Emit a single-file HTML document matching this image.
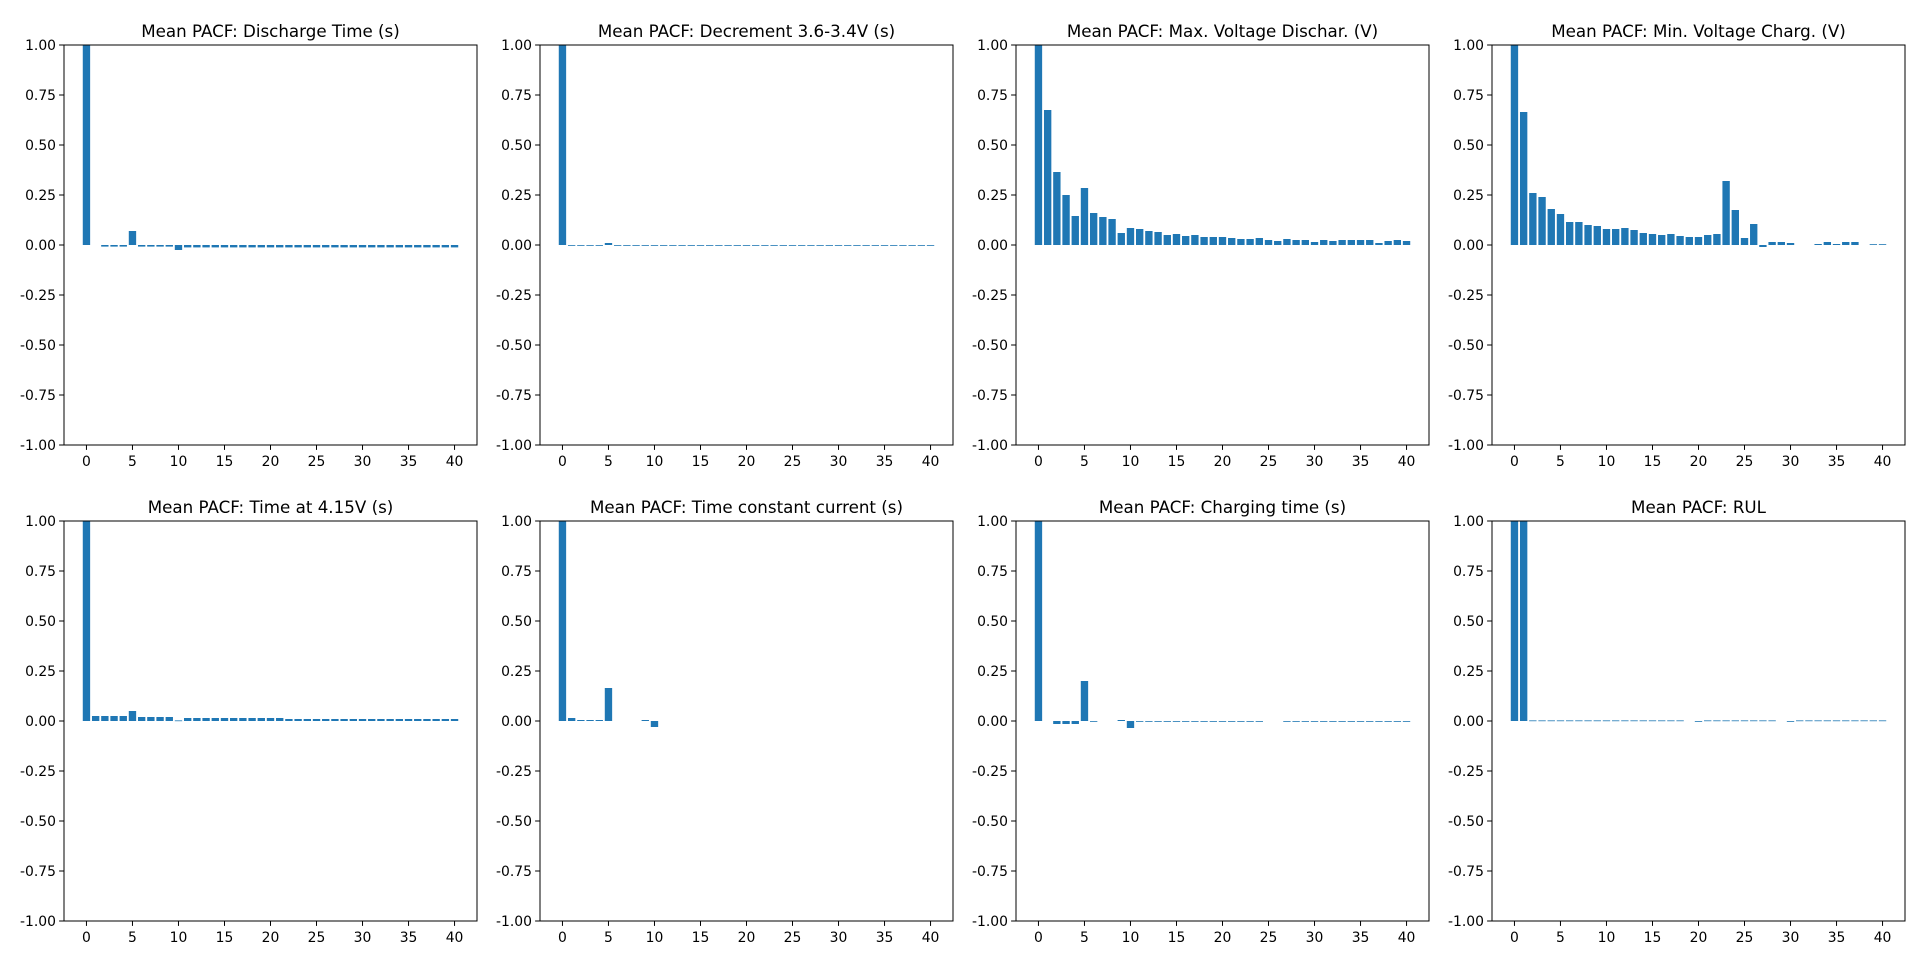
<!DOCTYPE html>
<html><head><meta charset="utf-8"><style>
html,body{margin:0;padding:0;background:#fff;}
svg{display:block;font-family:"DejaVu Sans","Liberation Sans",sans-serif;}
</style></head><body>
<svg id="fig" width="1920" height="967" viewBox="0 0 1920 967"></svg>
<script>
const titles=["Mean PACF: Discharge Time (s)","Mean PACF: Decrement 3.6-3.4V (s)","Mean PACF: Max. Voltage Dischar. (V)","Mean PACF: Min. Voltage Charg. (V)","Mean PACF: Time at 4.15V (s)","Mean PACF: Time constant current (s)","Mean PACF: Charging time (s)","Mean PACF: RUL"];
const N=null;
const pacf1=[1,N,-0.008,-0.008,-0.008,0.07,-0.008,-0.008,-0.008,-0.008,-0.025,-0.012,-0.012,-0.012,-0.012,-0.012,-0.012,-0.012,-0.012,-0.012,-0.012,-0.012,-0.012,-0.012,-0.012,-0.012,-0.012,-0.012,-0.012,-0.012,-0.012,-0.012,-0.012,-0.012,-0.012,-0.012,-0.012,-0.012,-0.012,-0.012,-0.012];
const pacf2=[1,-0.003,-0.003,-0.003,-0.003,0.01,-0.003,-0.003,-0.003,-0.003,-0.003,-0.003,-0.003,-0.003,-0.003,-0.003,-0.003,-0.003,-0.003,-0.003,-0.003,-0.003,-0.003,-0.003,-0.003,-0.003,-0.003,-0.003,-0.003,-0.003,-0.003,-0.003,-0.003,-0.003,-0.003,-0.003,-0.003,-0.003,-0.003,-0.003,-0.003];
const pacf3=[1,0.675,0.365,0.25,0.145,0.285,0.16,0.14,0.13,0.06,0.085,0.08,0.07,0.065,0.05,0.055,0.045,0.05,0.04,0.04,0.04,0.035,0.03,0.03,0.035,0.025,0.02,0.03,0.025,0.025,0.015,0.025,0.02,0.025,0.025,0.025,0.025,0.01,0.02,0.025,0.02];
const pacf4=[1,0.665,0.26,0.24,0.18,0.155,0.115,0.115,0.1,0.095,0.08,0.08,0.085,0.075,0.06,0.055,0.05,0.055,0.045,0.04,0.04,0.05,0.055,0.32,0.175,0.035,0.105,-0.01,0.015,0.015,0.01,N,N,0.005,0.015,0.005,0.015,0.015,N,0.004,0.004];
const pacf5=[1,0.025,0.025,0.025,0.025,0.05,0.02,0.02,0.02,0.02,0.003,0.015,0.015,0.015,0.015,0.015,0.015,0.015,0.015,0.015,0.015,0.015,0.01,0.01,0.01,0.01,0.01,0.01,0.01,0.01,0.01,0.01,0.01,0.01,0.01,0.01,0.01,0.01,0.01,0.01,0.01];
const pacf6=[1,0.015,0.005,0.005,0.005,0.165,N,N,N,0.005,-0.03,N,N,N,N,N,N,N,N,N,N,N,N,N,N,N,N,N,N,N,N,N,N,N,N,N,N,N,N,N,N];
const pacf7=[1,N,-0.015,-0.015,-0.015,0.2,-0.002,N,N,0.005,-0.035,-0.002,-0.002,-0.002,-0.002,-0.002,-0.002,-0.002,-0.002,-0.002,-0.002,-0.002,-0.002,-0.002,-0.002,N,N,-0.002,-0.002,-0.002,-0.002,-0.002,-0.002,-0.002,-0.002,-0.002,-0.002,-0.002,-0.002,-0.002,-0.002];
const pacf8=[1,1,0.003,0.003,0.003,0.003,0.003,0.003,0.003,0.003,0.003,0.003,0.003,0.003,0.003,0.003,0.003,0.003,0.003,N,-0.003,0.003,0.003,0.003,0.003,0.003,0.003,0.003,0.003,N,-0.003,0.003,0.003,0.003,0.003,0.003,0.003,0.003,0.003,0.003,0.003];
const series=[pacf1,pacf2,pacf3,pacf4,pacf5,pacf6,pacf7,pacf8];
const yTicks=[-1,-0.75,-0.5,-0.25,0,0.25,0.5,0.75,1];
const xTicks=[0,5,10,15,20,25,30,35,40];

const NS="http://www.w3.org/2000/svg";
const fig=document.getElementById('fig');
function mk(t,a,p){const e=document.createElementNS(NS,t);for(const k in a)e.setAttribute(k,a[k]);(p||fig).appendChild(e);return e;}
const lefts=[64,540,1016,1492], W=413, tops=[45,521], H=400;
const X0=-2.44,X1=42.44;
series.forEach((vals,i)=>{
  const L=lefts[i%4],T=tops[Math.floor(i/4)];
  const g=mk('g',{});
  
  
  const sx=v=>L+(v-X0)/(X1-X0)*W;
  const sy=v=>T+(1-v)/2*H;
  const clip=mk('clipPath',{id:'c'+i},g);
  mk('rect',{x:L,y:T,width:W,height:H},clip);
  const bars=mk('g',{'clip-path':'url(#c'+i+')'},g);
  vals.forEach((v,k)=>{
    if(v===null)return;
    const y0=sy(0),y1=sy(v);
    const r=mk('rect',{x:sx(k-0.4),y:Math.min(y0,y1),width:sx(k+0.4)-sx(k-0.4),height:Math.max(Math.abs(y1-y0),0.8),fill:'#1f77b4'},bars);
    
    
  });
  yTicks.forEach(t=>{
    const y=sy(t);
    mk('line',{x1:L-4.9,x2:L,y1:y,y2:y,stroke:'#000','stroke-width':1},g);
    const tx=mk('text',{x:L-8,y:y+5,'text-anchor':'end','font-size':'13.9px',fill:'#000'},g);
    tx.textContent=t.toFixed(2);
    
    
  });
  xTicks.forEach(t=>{
    const x=sx(t);
    mk('line',{x1:x,x2:x,y1:T+H,y2:T+H+4.9,stroke:'#000','stroke-width':1},g);
    const tx=mk('text',{x:x,y:T+H+21,'text-anchor':'middle','font-size':'13.9px',fill:'#000'},g);
    tx.textContent=t;
    
    
  });
  const fr=mk('rect',{x:L,y:T,width:W,height:H,fill:'none',stroke:'#000','stroke-width':1},g);
  
  
  const ti=mk('text',{x:L+W/2,y:T-8,'text-anchor':'middle','font-size':'16.7px',fill:'#000'},g);
  ti.textContent=titles[i];
  
  
});
</script>
</body></html>
